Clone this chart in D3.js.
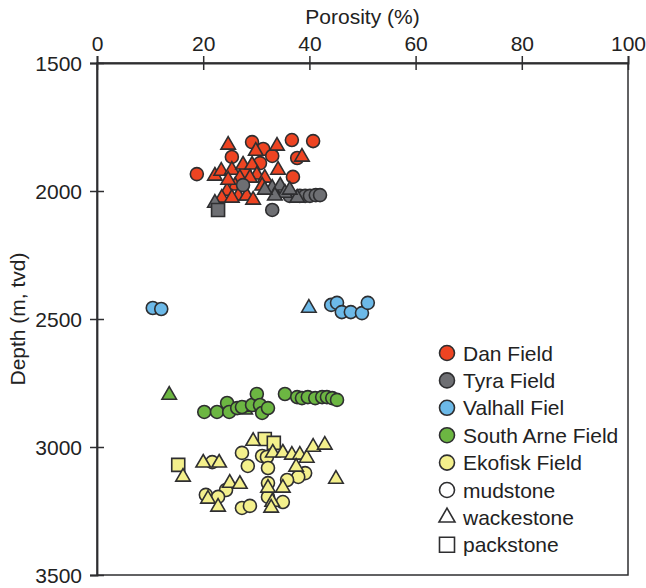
<!DOCTYPE html>
<html>
<head>
<meta charset="utf-8">
<script src="https://cdn.jsdelivr.net/npm/d3@7"></script>
<style>
  html, body { margin: 0; padding: 0; background: #fff; }
  svg { display: block; font-family: "Liberation Sans", Arial, Helvetica, sans-serif; }
</style>
</head>
<body>
<svg id="chart" width="646" height="588"></svg>
<script>
// Porosity (%) vs depth (m, tvd) samples; lithology: m = mudstone, w = wackestone, p = packstone
const porosityTicks = [0, 20, 40, 60, 80, 100];
const depthTicks = [1500, 2000, 2500, 3000, 3500];

const danField = [
  [29.2, 1809, "m"], [31.3, 1836, "m"], [36.7, 1801, "m"], [40.7, 1805, "m"],
  [25.4, 1867, "m"], [33.0, 1863, "m"], [37.7, 1871, "m"], [18.8, 1934, "m"],
  [36.9, 1945, "m"], [30.7, 1891, "m"], [27.9, 1930, "m"],
  [24.7, 1820, "w"], [29.9, 1844, "w"], [33.9, 1824, "w"], [38.6, 1867, "w"],
  [34.1, 1918, "w"], [22.2, 1941, "w"], [23.4, 1922, "w"], [25.4, 1918, "w"],
  [27.5, 1898, "w"], [29.2, 1898, "w"], [30.1, 1937, "w"], [26.9, 1949, "w"],
  [28.8, 1949, "w"], [26.0, 1980, "w"], [24.5, 2000, "w"], [26.6, 2019, "w"],
  [28.2, 2019, "w"], [23.5, 2027, "w"], [25.4, 2027, "w"], [29.4, 2035, "w"],
  [31.6, 1949, "w"], [24.7, 1957, "w"], [31.1, 1980, "w"]
];

const tyraField = [
  [38.2, 2019, "m"], [39.2, 2019, "m"], [40.1, 2019, "m"], [41.2, 2016, "m"],
  [42.0, 2016, "m"], [33.0, 2074, "m"], [27.5, 1977, "m"], [36.3, 2019, "m"],
  [22.2, 2047, "w"], [33.0, 1988, "w"], [34.5, 1980, "w"], [35.4, 2008, "w"],
  [33.5, 2019, "w"], [37.7, 2027, "w"], [31.6, 1996, "w"], [36.3, 1996, "w"],
  [22.8, 2074, "p"]
];

const valhallField = [
  [10.5, 2457, "m"], [12.1, 2461, "m"], [44.1, 2445, "m"], [45.2, 2437, "m"],
  [46.1, 2473, "m"], [47.8, 2473, "m"], [49.9, 2477, "m"], [51.0, 2437, "m"],
  [39.9, 2457, "w"]
];

const southArneField = [
  [13.6, 2797, "w"], [27.9, 2855, "w"], [29.8, 2844, "w"],
  [20.2, 2863, "m"], [22.6, 2863, "m"], [24.5, 2828, "m"], [24.9, 2863, "m"],
  [26.4, 2848, "m"], [27.3, 2844, "m"], [29.2, 2836, "m"], [30.1, 2793, "m"],
  [30.7, 2836, "m"], [31.1, 2867, "m"], [32.2, 2848, "m"], [35.4, 2793, "m"],
  [37.7, 2805, "m"], [38.6, 2809, "m"], [39.7, 2805, "m"], [41.1, 2809, "m"],
  [42.4, 2805, "m"], [43.3, 2805, "m"], [44.3, 2809, "m"], [45.2, 2816, "m"]
];

const ekofiskField = [
  [15.3, 3070, "p"], [31.6, 2969, "p"], [33.3, 2984, "p"],
  [21.7, 3059, "m"], [27.3, 3023, "m"], [28.4, 3074, "m"], [31.1, 3035, "m"],
  [32.0, 3039, "m"], [32.2, 3082, "m"], [39.2, 3102, "m"], [37.9, 3117, "m"],
  [35.8, 3129, "m"], [24.3, 3168, "m"], [20.5, 3187, "m"], [22.8, 3195, "m"],
  [27.3, 3238, "m"], [28.8, 3230, "m"], [32.2, 3141, "m"], [32.2, 3195, "m"],
  [35.0, 3215, "m"],
  [16.2, 3117, "w"], [20.0, 3062, "w"], [23.0, 3062, "w"], [29.4, 2977, "w"],
  [33.1, 3023, "w"], [35.0, 3023, "w"], [36.7, 3031, "w"], [38.2, 3031, "w"],
  [39.5, 3043, "w"], [40.7, 3000, "w"], [42.9, 2992, "w"], [37.5, 3078, "w"],
  [45.0, 3125, "w"], [25.0, 3141, "w"], [26.9, 3145, "w"], [20.9, 3203, "w"],
  [22.8, 3234, "w"], [32.2, 3160, "w"], [35.0, 3160, "w"], [33.0, 3215, "w"],
  [32.8, 3238, "w"]
];

const fieldNames = ["Dan Field", "Tyra Field", "Valhall Fiel", "South Arne Field", "Ekofisk Field"];
const fieldColors = ["#ee4422", "#6e6f73", "#6cb9e8", "#6cb642", "#f4f08c"];
const fieldData = [danField, tyraField, valhallField, southArneField, ekofiskField];
const lithologyNames = ["mudstone", "wackestone", "packstone"];
const lithologyKeys = ["m", "w", "p"];

const svg = d3.select("#chart");
const ink = "#2e2e30";

const x = d3.scaleLinear().domain([0, 100]).range([97, 628]);
const y = d3.scaleLinear().domain([1500, 3500]).range([63, 575]);

// marker paths centred on (0,0)
function markerPath(kind, s) {
  if (kind === "m") {
    const r = s / 2;
    return `M${r},0A${r},${r} 0 1,1 ${-r},0A${r},${r} 0 1,1 ${r},0Z`;
  }
  if (kind === "w") {
    const h = s * 0.866;
    return `M0,${-h * 2 / 3}L${s / 2},${h / 3}L${-s / 2},${h / 3}Z`;
  }
  const r = s / 2;
  return `M${-r},${-r}H${r}V${r}H${-r}Z`;
}
const markerSize = { m: 13, w: 14.5, p: 13 };

// plot frame
svg.append("rect")
  .attr("x", x(0)).attr("y", y(1500))
  .attr("width", x(100) - x(0)).attr("height", y(3500) - y(1500))
  .attr("fill", "none").attr("stroke", ink).attr("stroke-width", 1.5);

// top porosity axis
const xAxis = svg.append("g")
  .attr("transform", `translate(0,${y(1500)})`)
  .call(d3.axisTop(x).tickValues(porosityTicks).tickFormat(d3.format("d")).tickSize(7).tickPadding(4));
xAxis.select(".domain").attr("stroke", ink).attr("stroke-width", 1.8);
xAxis.selectAll(".tick line").attr("y1", -7).attr("y2", 7).attr("stroke", ink).attr("stroke-width", 1.5);
xAxis.selectAll(".tick text").attr("font-size", 21).attr("fill", "#222").attr("y", -12).attr("dy", 0);

// left depth axis
const yAxis = svg.append("g")
  .attr("transform", `translate(${x(0)},0)`)
  .call(d3.axisLeft(y).tickValues(depthTicks).tickFormat(d3.format("d")).tickSize(7).tickPadding(8));
yAxis.select(".domain").attr("stroke", ink).attr("stroke-width", 1.8);
yAxis.selectAll(".tick line").attr("x1", -7).attr("x2", 7).attr("stroke", ink).attr("stroke-width", 1.5);
yAxis.selectAll(".tick text").attr("font-size", 21).attr("fill", "#222").attr("x", -15).attr("dy", "0.35em");

// axis titles
svg.append("text")
  .attr("x", (x(0) + x(100)) / 2).attr("y", 24)
  .attr("text-anchor", "middle").attr("font-size", 21).attr("fill", "#222")
  .text("Porosity (%)");
svg.append("text")
  .attr("transform", `translate(25,${(y(1500) + y(3500)) / 2}) rotate(-90)`)
  .attr("text-anchor", "middle").attr("font-size", 21).attr("fill", "#222")
  .text("Depth (m, tvd)");

// data points
const pts = svg.append("g");
fieldData.forEach((rows, i) => {
  pts.append("g").selectAll("path")
    .data(rows)
    .join("path")
    .attr("d", d => markerPath(d[2], markerSize[d[2]]))
    .attr("transform", d => `translate(${x(d[0])},${y(d[1])})`)
    .attr("fill", fieldColors[i])
    .attr("stroke", ink)
    .attr("stroke-width", 1.6);
});

// legend
const legend = svg.append("g").attr("transform", "translate(447,353)");
const rowH = 27.4;
const entries = fieldNames.map((n, i) => ({ label: n, kind: "m", fill: fieldColors[i] }))
  .concat(lithologyNames.map((n, i) => ({ label: n, kind: lithologyKeys[i], fill: "#fff" })));
const rows = legend.selectAll("g").data(entries).join("g")
  .attr("transform", (d, i) => `translate(0,${i * rowH})`);
rows.append("path")
  .attr("d", d => markerPath(d.kind, d.kind === "w" ? 16 : 15))
  .attr("fill", d => d.fill)
  .attr("stroke", ink).attr("stroke-width", 1.6);
rows.append("text")
  .attr("x", 16).attr("dy", "0.36em")
  .attr("font-size", 21).attr("fill", "#222")
  .text(d => d.label);
</script>
</body>
</html>
